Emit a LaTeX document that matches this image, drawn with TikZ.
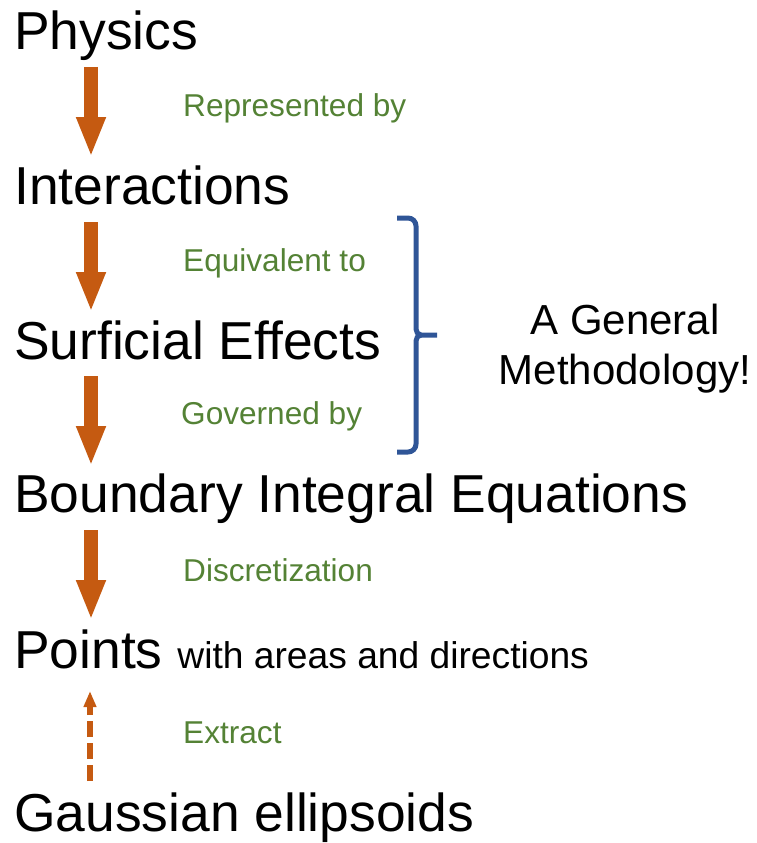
\documentclass[tikz,border=0pt]{standalone}
\usepackage{fontspec}
\setmainfont{Liberation Sans}
\usetikzlibrary{arrows.meta}
\definecolor{flowline}{RGB}{197,90,17}
\definecolor{relgreen}{RGB}{84,130,53}
\definecolor{braceblue}{RGB}{47,85,151}
\begin{document}
\begin{tikzpicture}[x=1pt,y=-1pt,
  stage/.style={anchor=base west,inner sep=0pt,font=\fontsize{53.4}{60}\selectfont},
  relation/.style={anchor=base west,inner sep=0pt,text=relgreen,font=\fontsize{31.6}{36}\selectfont},
  note/.style={inner sep=0pt,align=center,font=\fontsize{42}{50}\selectfont},
  blockarrow/.style={draw=flowline,line width=14pt,-{Triangle[width=27pt,length=40pt]}},
  dasharrow/.style={draw=flowline,line width=5.5pt,dash pattern=on 16pt off 6pt,-{Triangle[width=12pt,length=16pt]}},
  bracket/.style={draw=braceblue,line width=5pt,line cap=butt,line join=round}]
\useasboundingbox (0,0) rectangle (756,843);

% the chain of stages
\node[stage] (phys) at (14,50) {Physics};
\node[stage] (inter) at (14,204) {Interactions};
\node[stage] (surf) at (14,359) {Surficial Effects};
\node[stage] (bie) at (14,512) {Boundary Integral Equations};
\node[stage] (pts) at (14,668) {Points {\fontsize{37.2}{44}\selectfont with areas and directions}};
\node[stage] (gauss) at (14,831) {Gaussian ellipsoids};

% relations between stages
\node[relation] (r1) at (183,116) {Represented by};
\node[relation] (r2) at (183,271) {Equivalent to};
\node[relation] (r3) at (181,424) {Governed by};
\node[relation] (r4) at (183,581) {Discretization};
\node[relation] (r5) at (183,743) {Extract};

% arrow end points
\coordinate (a1s) at (91,67);  \coordinate (a1e) at (91,157);
\coordinate (a2s) at (91,222); \coordinate (a2e) at (91,312);
\coordinate (a3s) at (91,376); \coordinate (a3e) at (91,466);
\coordinate (a4s) at (91,530); \coordinate (a4e) at (91,620);
\coordinate (a5s) at (90,781); \coordinate (a5e) at (90,691);

\draw[blockarrow] (a1s) -- (a1e);
\draw[blockarrow] (a2s) -- (a2e);
\draw[blockarrow] (a3s) -- (a3e);
\draw[blockarrow] (a4s) -- (a4e);
\draw[dasharrow] (a5s) -- (a5e);

% bracket grouping the middle stages
\draw[bracket] (397,218) -- (408,218) to[out=0,in=90] (416,226) -- (416,329)
  to[out=-90,in=180] (421,335) -- (437,335);
\draw[bracket] (397,452) -- (408,452) to[out=0,in=-90] (416,444) -- (416,341)
  to[out=90,in=180] (421,335);

\node[note] (method) at (625,349) {A General\\Methodology!};
\end{tikzpicture}
\end{document}
